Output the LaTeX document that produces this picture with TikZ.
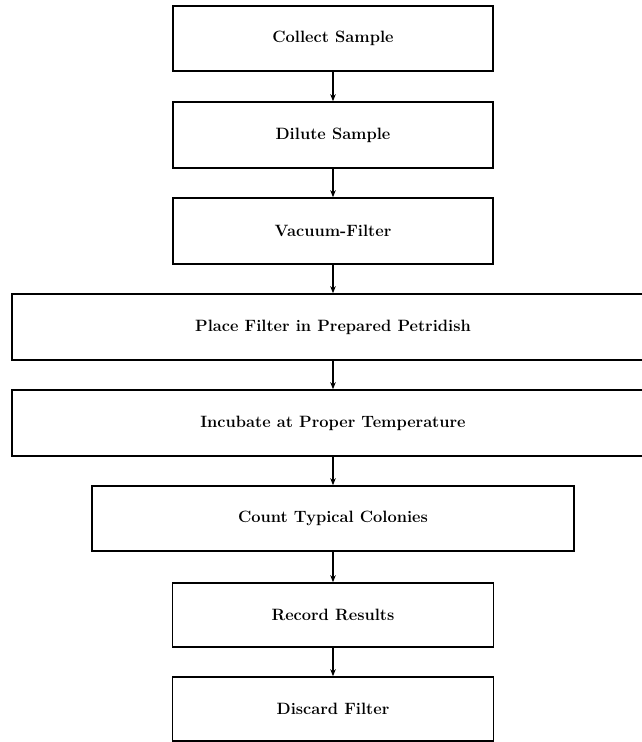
\documentclass[tikz,border=0pt]{standalone}
\usetikzlibrary{arrows.meta}
\begin{document}
\begin{tikzpicture}[x=1pt, y=-1pt,
    stepbox/.style={draw, line width=1.6pt, inner sep=0pt, font=\fontsize{16.4}{20}\selectfont\bfseries},
    flowarrow/.style={-{Stealth[length=7pt, width=5.5pt]}, line width=1.4pt}]
    \useasboundingbox (0,0) rectangle (641,742);

    % 取样与稀释
    \node[stepbox, minimum width=320, minimum height=65] (collect) at (333, 38.5) {Collect Sample};
    \node[stepbox, minimum width=320, minimum height=66] (dilute) at (333, 135) {Dilute Sample};
    \node[stepbox, minimum width=320, minimum height=66] (vacuum) at (333, 231) {Vacuum-Filter};

    % 培养
    \node[stepbox, minimum width=642, minimum height=66] (place) at (333, 327) {Place Filter in Prepared Petridish};
    \node[stepbox, minimum width=642, minimum height=66] (incubate) at (333, 423) {Incubate at Proper Temperature};

    % 计数与记录
    \node[stepbox, minimum width=482, minimum height=65] (count) at (333, 518.5) {Count Typical Colonies};
    \node[stepbox, minimum width=321, minimum height=64] (record) at (333, 615) {Record Results};
    \node[stepbox, minimum width=321, minimum height=64] (discard) at (333, 709) {Discard Filter};

    % 箭头
    \draw[flowarrow] (collect) -- (dilute);
    \draw[flowarrow] (dilute) -- (vacuum);
    \draw[flowarrow] (vacuum) -- (place);
    \draw[flowarrow] (place) -- (incubate);
    \draw[flowarrow] (incubate) -- (count);
    \draw[flowarrow] (count) -- (record);
    \draw[flowarrow] (record) -- (discard);
\end{tikzpicture}
\end{document}
